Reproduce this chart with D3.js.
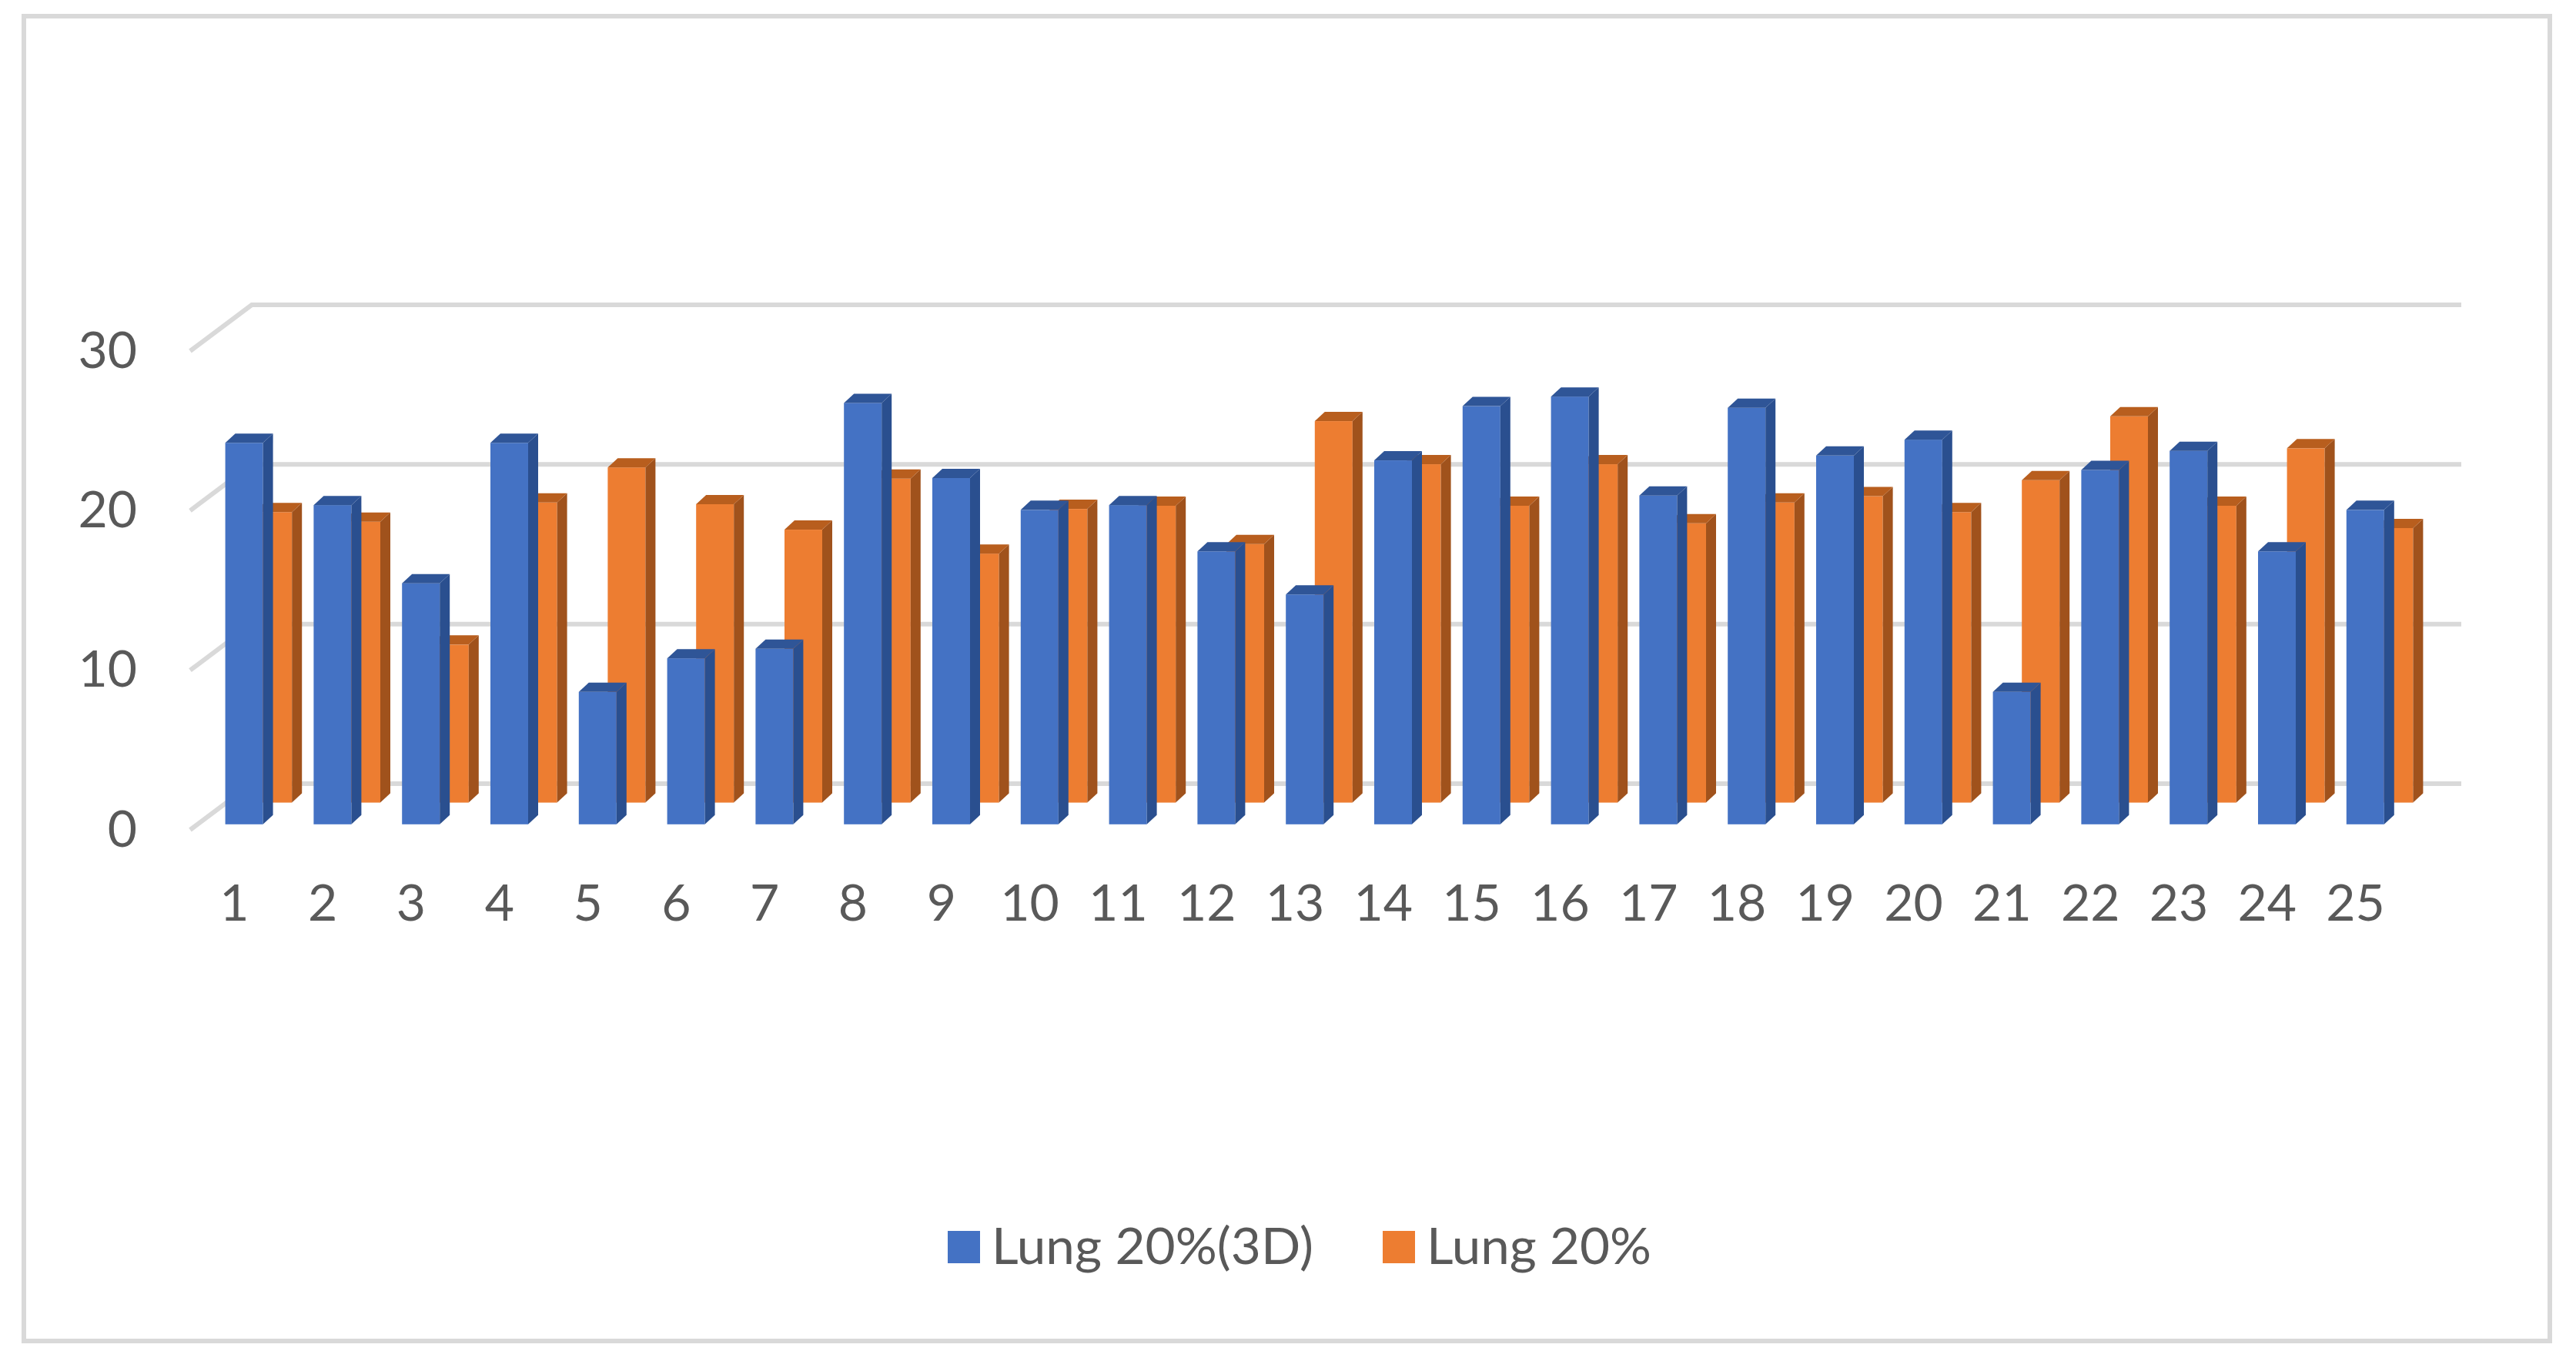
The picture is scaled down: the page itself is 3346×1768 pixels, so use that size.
<!DOCTYPE html>
<html>
<head>
<meta charset="utf-8">
<script src="https://cdn.jsdelivr.net/npm/d3@7"></script>
<style>
  html, body { margin: 0; padding: 0; background: #fff; }
  text { font-family: "Lato", sans-serif; fill: #595959; }
</style>
</head>
<body>
<div class="chart"></div>
<script>
var categories = ["1","2","3","4","5","6","7","8","9","10","11","12","13","14","15","16","17","18","19","20","21","22","23","24","25"];
var lung3D = [23.9,20.0,15.1,23.9,8.3,10.4,11.0,26.4,21.7,19.7,20.0,17.1,14.4,22.8,26.2,26.8,20.6,26.1,23.1,24.1,8.3,22.2,23.4,17.1,19.7];
var lung = [18.2,17.6,9.9,18.8,21.0,18.7,17.1,20.3,15.6,18.4,18.6,16.2,23.9,21.2,18.6,21.2,17.5,18.8,19.2,18.2,20.2,24.2,18.6,22.2,17.2];
var yTicks = [0,10,20,30];
var seriesNames = ["Lung 20%(3D)","Lung 20%"];

var width = 3346, height = 1768;

var svg = d3
  .select(".chart")
  .append("svg")
  .attr("width", width)
  .attr("height", height)
  .style("display", "block");

svg
  .append("rect")
  .attr("x", 31)
  .attr("y", 21)
  .attr("width", 3281)
  .attr("height", 1721)
  .style("fill", "#fff")
  .style("stroke", "#d9d9d9")
  .style("stroke-width", 6);

var x = d3.scaleBand().domain(categories).range([247, 3117]);
var y = d3.scaleLinear().domain([0, 30]).range([1078, 456]);

// oblique projection of the floor depth
var depthX = d3.scaleLinear().domain([0, 1]).range([0, 80]);
var depthY = d3.scaleLinear().domain([0, 1]).range([0, -60]);

var barOffset = 36, barWidth = 49, barDx = 13, barDy = 12;

// gridlines: short diagonal on the side wall, then along the back wall
svg
  .selectAll("path.grid")
  .data(yTicks)
  .enter()
  .append("path")
  .attr("class", "grid")
  .attr("d", function (d) {
    return d3.line()([
      [x.range()[0], y(d)],
      [x.range()[0] + depthX(1), y(d) + depthY(1)],
      [x.range()[1] + depthX(1), y(d) + depthY(1)]
    ]);
  })
  .style("fill", "none")
  .style("stroke", "#d9d9d9")
  .style("stroke-width", 6);

function drawSeries(values, depth, colorFront, colorSide, colorTop) {
  var g = svg
    .append("g")
    .selectAll("g")
    .data(values)
    .enter()
    .append("g");

  function left(i) {
    return x(categories[i]) + barOffset + depthX(depth);
  }

  g.append("rect")
    .attr("x", function (d, i) { return left(i); })
    .attr("y", function (d) { return y(d) + depthY(depth); })
    .attr("width", barWidth)
    .attr("height", function (d) { return y(0) - y(d); })
    .style("fill", colorFront);

  g.append("path")
    .attr("d", function (d, i) {
      var r = left(i) + barWidth;
      var top = y(d) + depthY(depth);
      var bottom = y(0) + depthY(depth);
      return d3.line()([[r, top], [r + barDx, top - barDy], [r + barDx, bottom - barDy], [r, bottom]]) + "Z";
    })
    .style("fill", colorSide);

  g.append("path")
    .attr("d", function (d, i) {
      var l = left(i);
      var top = y(d) + depthY(depth);
      return d3.line()([[l, top], [l + barDx, top - barDy], [l + barWidth + barDx, top - barDy], [l + barWidth, top]]) + "Z";
    })
    .style("fill", colorTop);
}

drawSeries(lung, 0.59, "#ED7D31", "#A0521C", "#B85E1E");
drawSeries(lung3D, 0.12, "#4472C4", "#2A4F8F", "#2F5597");

var yAxis = svg
  .append("g")
  .attr("transform", "translate(178,0)")
  .call(d3.axisLeft(y).tickValues(yTicks).tickSize(0).tickPadding(0));
yAxis.select(".domain").remove();
yAxis.selectAll("text").style("font-size", "66px").style("font-family", '"Lato", sans-serif').style("fill", "#595959");

var xAxis = svg
  .append("g")
  .attr("transform", "translate(0,1172)")
  .call(d3.axisBottom(x).tickSize(0).tickPadding(0));
xAxis.select(".domain").remove();
xAxis.selectAll("text")
  .attr("y", 0)
  .attr("dy", "0.36em")
  .style("font-size", "66px")
  .style("font-family", '"Lato", sans-serif')
  .style("fill", "#595959");

// legend
var legendColors = ["#4472C4", "#ED7D31"];
var legendX = [1231, 1796];
var legendLengths = [418, 292];

var legend = svg
  .selectAll("g.legend")
  .data(seriesNames)
  .enter()
  .append("g")
  .attr("class", "legend")
  .attr("transform", function (d, i) { return "translate(" + legendX[i] + ",1599)"; });

legend
  .append("rect")
  .attr("width", 42)
  .attr("height", 42)
  .style("fill", function (d, i) { return legendColors[i]; });

legend
  .append("text")
  .attr("x", 57)
  .attr("y", 43)
  .attr("textLength", function (d, i) { return legendLengths[i]; })
  .attr("lengthAdjust", "spacingAndGlyphs")
  .style("font-size", "66px")
  .text(function (d) { return d; });
</script>
</body>
</html>
